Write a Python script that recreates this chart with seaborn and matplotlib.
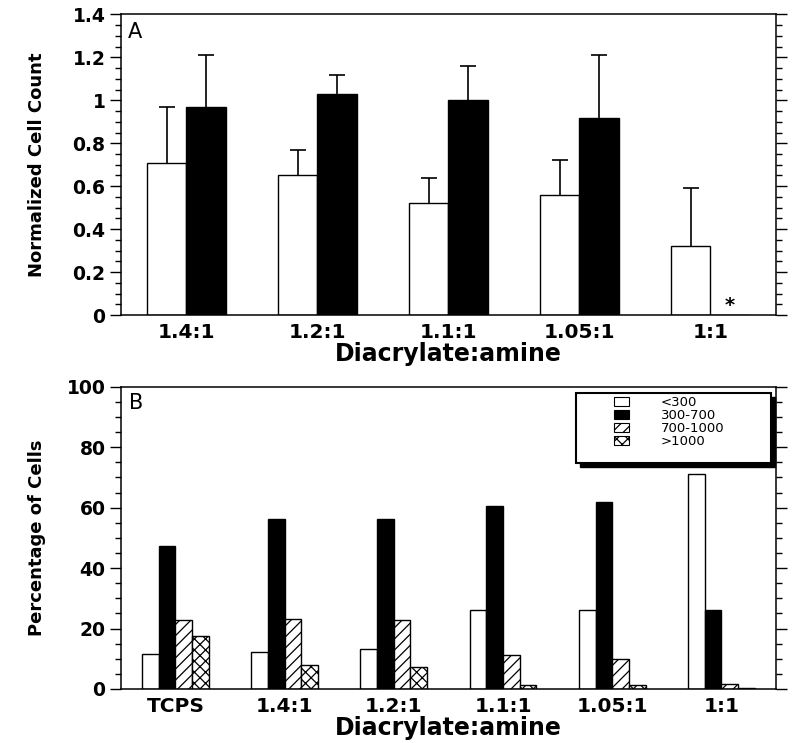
import numpy as np
import pandas as pd
import matplotlib.pyplot as plt
import seaborn as sns
from matplotlib.patches import Patch, Rectangle
from matplotlib.ticker import MultipleLocator, FormatStrFormatter

# panel A: normalized cell count (bar value + upper SD)
ratios_a = ["1.4:1", "1.2:1", "1.1:1", "1.05:1", "1:1"]
groups_a = ["Condition 1", "Condition 2"]
open_vals = [0.71, 0.65, 0.52, 0.56, 0.32]
open_err = [0.26, 0.12, 0.12, 0.16, 0.27]
filled_vals = [0.97, 1.03, 1.00, 0.92, 0.0]
filled_err = [0.24, 0.09, 0.16, 0.29, np.nan]

# panel B: percentage of cells per size bin
ratios_b = ["TCPS", "1.4:1", "1.2:1", "1.1:1", "1.05:1", "1:1"]
size_bins = ["<300", "300-700", "700-1000", ">1000"]
pct_lt300 = [11.6, 12.2, 13.2, 26.1, 26.1, 71.2]
pct_300_700 = [47.2, 56.1, 56.1, 60.7, 62.0, 26.1]
pct_700_1000 = [22.8, 23.1, 22.8, 11.2, 9.9, 1.6]
pct_gt1000 = [17.5, 7.9, 7.3, 1.3, 1.3, 0.3]

sns.set_theme(style="ticks")
plt.rcParams['font.family'] = ['DejaVu Sans']
plt.rcParams.update({
    'axes.edgecolor': 'black', 'text.color': 'black', 'axes.labelcolor': 'black',
    'xtick.color': 'black', 'ytick.color': 'black', 'hatch.linewidth': 0.9,
})


def style_axis(ax, n, ymax, major, minor):
    ax.set_xlim(-0.5, n - 0.5)
    ax.set_ylim(0, ymax)
    for s in ax.spines.values():
        s.set_visible(True)
        s.set_linewidth(1.1)
        s.set_color('black')
    ax.yaxis.set_major_locator(MultipleLocator(major))
    ax.yaxis.set_minor_locator(MultipleLocator(minor))
    ax.yaxis.set_major_formatter(FormatStrFormatter('%g'))
    ax.tick_params(axis='y', which='both', left=True, right=True, direction='out', width=1)
    ax.tick_params(axis='y', which='major', length=8, labelsize=13.5, pad=3)
    ax.tick_params(axis='y', which='minor', length=4)
    ax.tick_params(axis='x', length=0, labelsize=14.5, pad=6)
    for lab in ax.get_xticklabels() + ax.get_yticklabels():
        lab.set_fontweight('bold')
    ax.set_xlabel('Diacrylate:amine', fontsize=17, fontweight='bold', labelpad=0)
    ax.yaxis.set_label_coords(-0.114, 0.5)


fig = plt.figure(figsize=(8, 7.43), dpi=100)
ax_a = fig.add_axes([0.151, 0.576, 0.819, 0.4045])
ax_b = fig.add_axes([0.151, 0.0727, 0.819, 0.4068])

# ---- panel A
df_a = pd.DataFrame({
    "ratio": ratios_a * 2,
    "count": open_vals + filled_vals,
    "group": [groups_a[0]] * len(ratios_a) + [groups_a[1]] * len(ratios_a),
})
sns.barplot(data=df_a, x="ratio", y="count", hue="group", order=ratios_a,
            hue_order=groups_a, palette=["white", "black"], saturation=1,
            edgecolor="black", linewidth=1, width=0.6, errorbar=None,
            legend=False, ax=ax_a)

# upper-only error bars: drop the cap that sits on the bar top
for cont, errs in zip(ax_a.containers, [open_err, filled_err]):
    for bar, e in zip(cont.patches, errs):
        if np.isnan(e):
            continue
        x = bar.get_x() + bar.get_width() / 2
        _, caps, _ = ax_a.errorbar(x, bar.get_height(), yerr=[[0], [e]], fmt='none',
                                   ecolor='black', elinewidth=1.2, capsize=6,
                                   capthick=1.2)
        for cap in caps:
            if np.allclose(cap.get_ydata(), bar.get_height()):
                cap.remove()

# asterisk over the empty 1:1 bar
last = ax_a.containers[1].patches[-1]
ax_a.text(last.get_x() + last.get_width() / 2, 0.0, '*', ha='center',
          va='bottom', fontsize=14, fontweight='bold')

style_axis(ax_a, len(ratios_a), 1.4, 0.2, 0.05)
ax_a.set_ylabel('Normalized Cell Count', fontsize=13, fontweight='bold')
ax_a.text(0.01, 0.975, 'A', transform=ax_a.transAxes, ha='left', va='top', fontsize=15)

# ---- panel B
df_b = pd.DataFrame({
    "ratio": ratios_b * 4,
    "pct": pct_lt300 + pct_300_700 + pct_700_1000 + pct_gt1000,
    "bin": np.repeat(size_bins, len(ratios_b)),
})
fills = ["white", "black", "white", "white"]
hatches = ["", "", "///", "xxx"]
sns.barplot(data=df_b, x="ratio", y="pct", hue="bin", order=ratios_b,
            hue_order=size_bins, palette=fills, saturation=1,
            edgecolor="black", linewidth=1, width=0.61, errorbar=None,
            legend=False, ax=ax_b)
for cont, h in zip(ax_b.containers, hatches):
    for bar in cont.patches:
        bar.set_hatch(h)

style_axis(ax_b, len(ratios_b), 100, 20, 5)
ax_b.set_ylabel('Percentage of Cells', fontsize=13, fontweight='bold')
ax_b.text(0.012, 0.979, 'B', transform=ax_b.transAxes, ha='left', va='top', fontsize=15)

# legend box with a drop shadow
bx, by, bw, bh = 0.695, 0.749, 0.297, 0.231
ax_b.add_patch(Rectangle((bx + 0.006, by - 0.013), bw, bh, transform=ax_b.transAxes,
                         facecolor='black', edgecolor='black', zorder=4, clip_on=False))
ax_b.add_patch(Rectangle((bx, by), bw, bh, transform=ax_b.transAxes,
                         facecolor='white', edgecolor='black', linewidth=1.5,
                         zorder=4.5, clip_on=False))
handles = [Patch(facecolor=f, edgecolor='black', hatch=h, linewidth=0.8)
           for f, h in zip(fills, hatches)]
leg = ax_b.legend(handles, size_bins, loc='upper left', bbox_to_anchor=(0.752, 0.968),
                  frameon=False, fontsize=9.5, handlelength=1.2, handleheight=0.7,
                  handletextpad=2.4, labelspacing=0.0, borderpad=0, borderaxespad=0)
leg.set_zorder(6)

fig.savefig('out.png', dpi=100)
